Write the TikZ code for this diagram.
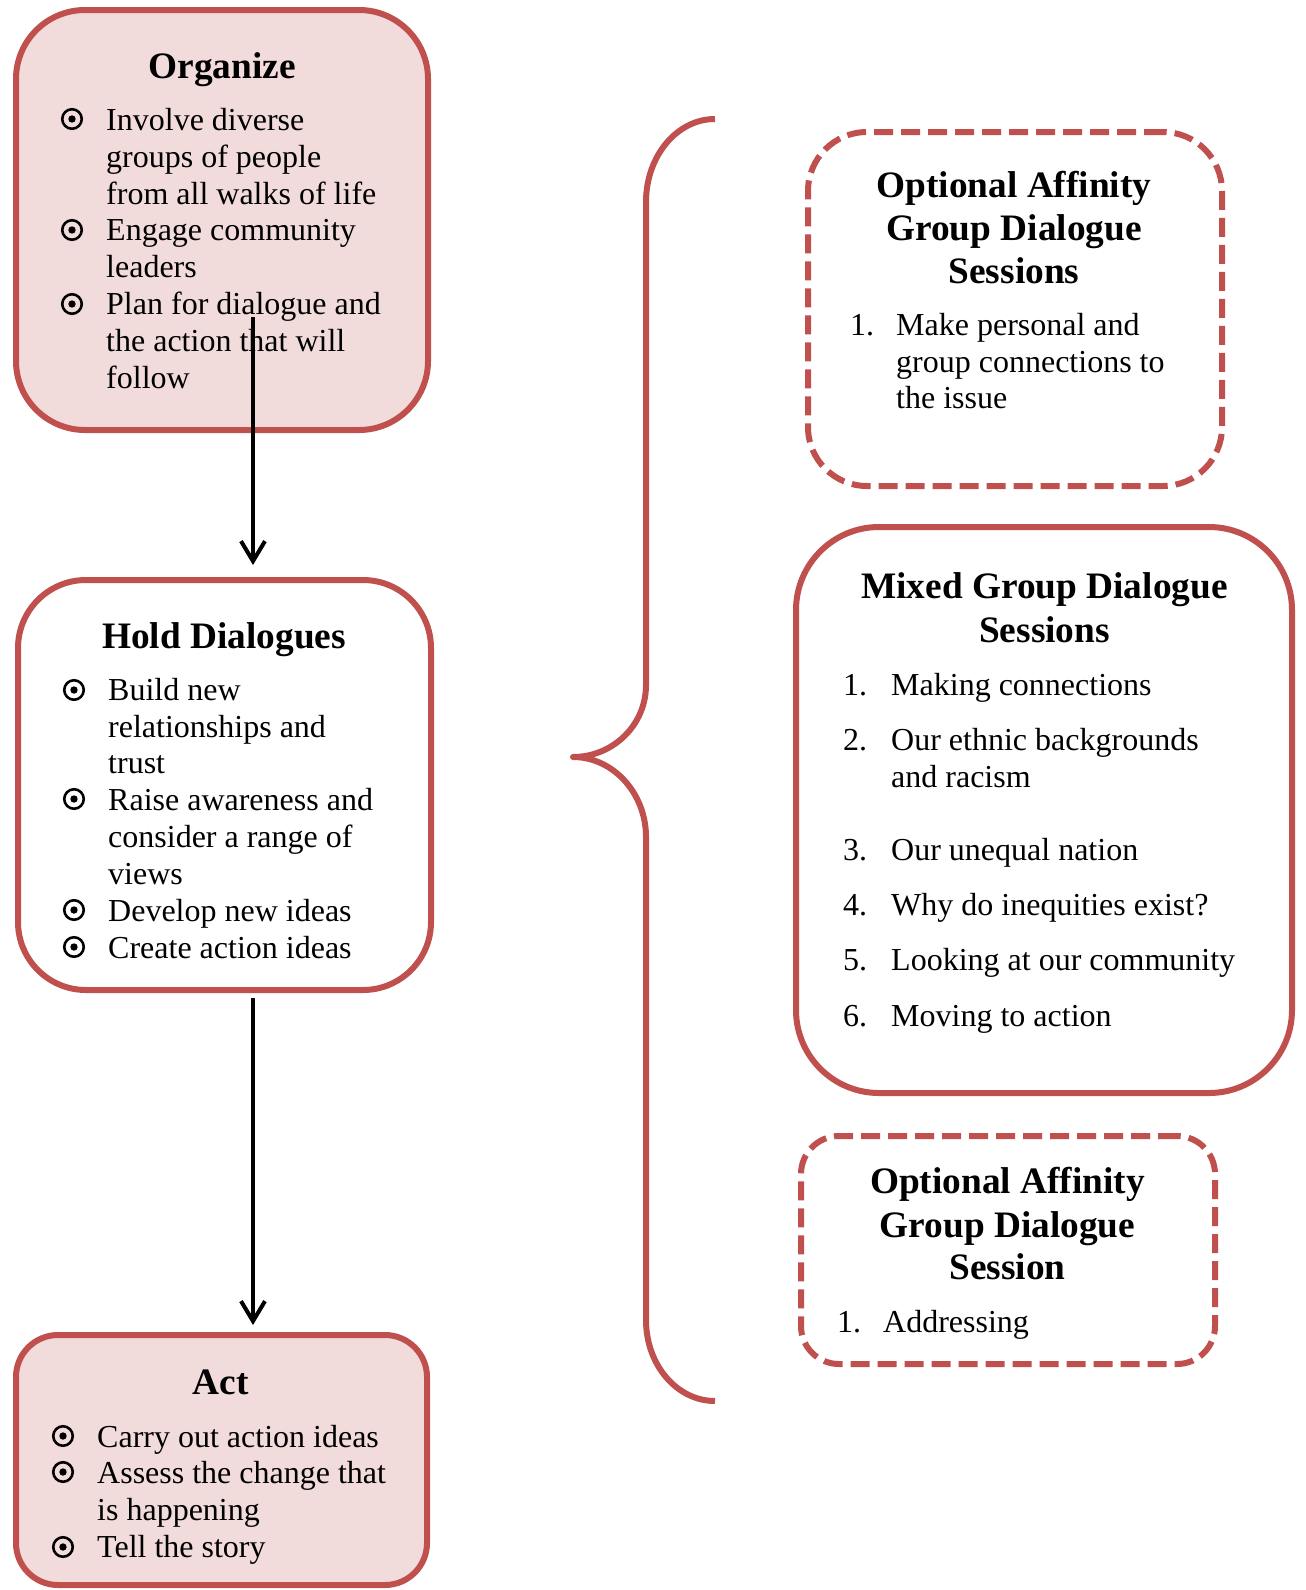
\documentclass[tikz,border=0pt]{standalone}
\usepackage{fontspec}
\setmainfont{Liberation Serif}
\usetikzlibrary{arrows.meta}
\definecolor{accent}{HTML}{C0504D}
\definecolor{pinkfill}{HTML}{F2DCDB}
\begin{document}
\begin{tikzpicture}[x=1pt,y=-1pt,
  box/.style={draw=accent, line width=6pt, rounded corners=#1, inner sep=0pt, shape=rectangle},
  dashbox/.style={box=#1, dash pattern=on 19pt off 8pt},
  txt/.style={font=\fontsize{32}{37}\selectfont, inner sep=0pt, anchor=base west},
  ttl/.style={font=\fontsize{37.33}{43}\selectfont\bfseries, inner sep=0pt, anchor=base},
  bul/.style={circle, draw=black, line width=2.6pt, minimum size=19.5pt, inner sep=0pt,
    path picture={\fill[black] (path picture bounding box.center) circle (3.7pt);}},
  arr/.style={line width=4pt, -{Straight Barb[length=20pt,width=24pt]}},
  brace/.style={draw=accent, line width=6pt, line join=round}
]
\useasboundingbox (0,0) rectangle (1306,1590);

% boxes
\node[box=69pt, fill=pinkfill, minimum width=412pt, minimum height=420pt] (org) at (222,220) {};
\node[box=68pt, fill=white, minimum width=413pt, minimum height=410pt] (hold) at (224.5,785) {};
\node[box=42pt, fill=pinkfill, minimum width=411pt, minimum height=250pt] (act) at (221.5,1460) {};
\node[dashbox=59pt, minimum width=414pt, minimum height=354pt] (opt1) at (1015,309) {};
\node[box=83pt, minimum width=496pt, minimum height=566pt] (mixed) at (1044,810) {};
\node[dashbox=38pt, minimum width=414pt, minimum height=228pt] (opt2) at (1008,1250) {};

% brace
\draw[brace] (715,119) .. controls (677,119) and (646,156) .. (646,202)
  -- (646,685) .. controls (646,725) and (613,757) .. (573,757)
  .. controls (613,757) and (646,793) .. (646,837)
  -- (646,1320) .. controls (646,1365) and (677,1401) .. (715,1401);

% Organize
\node[ttl] (orgT) at (222,78) {Organize};
\node[bul] (orgB1) at (72,119) {};
\node[bul] (orgB2) at (72,230) {};
\node[bul] (orgB3) at (72,304) {};
\foreach \t/\y [count=\i] in {Involve diverse/130, groups of people/167, from all walks of life/204,
  Engage community/240, leaders/277, Plan for dialogue and/314, the action that will/351, follow/388}
  \node[txt] (org\i) at (106,\y) {\t};

% Hold Dialogues
\node[ttl] (holdT) at (224,648) {Hold Dialogues};
\node[bul] (holdB1) at (74,690) {};
\node[bul] (holdB2) at (74,799) {};
\node[bul] (holdB3) at (74,910) {};
\node[bul] (holdB4) at (74,947) {};
\foreach \t/\y [count=\i] in {Build new/700, relationships and/737, trust/773,
  Raise awareness and/810, consider a range of/847, views/884, Develop new ideas/921, Create action ideas/958}
  \node[txt] (hold\i) at (108,\y) {\t};

% Act
\node[ttl] (actT) at (220.5,1394) {Act};
\node[bul] (actB1) at (63,1436) {};
\node[bul] (actB2) at (63,1472) {};
\node[bul] (actB3) at (63,1547) {};
\foreach \t/\y [count=\i] in {Carry out action ideas/1447, Assess the change that/1483,
  is happening/1520, Tell the story/1557}
  \node[txt] (act\i) at (97,\y) {\t};

% Optional 1
\foreach \t/\y [count=\i] in {Optional Affinity/197, Group Dialogue/240, Sessions/283}
  \node[ttl] (opt1T\i) at (1014,\y) {\t};
\node[txt] (opt1N1) at (850,335) {1.};
\foreach \t/\y [count=\i] in {Make personal and/335, group connections to/372, the issue/408}
  \node[txt] (opt1L\i) at (896,\y) {\t};

% Mixed
\node[ttl] (mixT1) at (1044.5,598) {Mixed Group Dialogue};
\node[ttl] (mixT2) at (1044.5,642) {Sessions};
\foreach \n/\y in {1/695, 2/750, 3/860, 4/915, 5/970, 6/1026}
  \node[txt] (mixN\n) at (843,\y) {\n.};
\foreach \t/\y [count=\i] in {Making connections/695, Our ethnic backgrounds/750, and racism/787,
  Our unequal nation/860, Why do inequities exist?/915, Looking at our community/970, Moving to action/1026}
  \node[txt] (mixL\i) at (891,\y) {\t};

% Optional 2
\foreach \t/\y [count=\i] in {Optional Affinity/1193, Group Dialogue/1237, Session/1279}
  \node[ttl] (opt2T\i) at (1007.5,\y) {\t};
\node[txt] (opt2N1) at (837,1332) {1.};
\node[txt] (opt2L1) at (883,1332) {Addressing};

% arrows
\coordinate (a1s) at (253,317);
\coordinate (ax) at (253,0);
\draw[arr, shorten >=12pt] (a1s) -- (a1s |- hold.north);
\draw[arr, shorten <=5pt, shorten >=7pt] (hold.south -| ax) -- (act.north -| ax);
\end{tikzpicture}
\end{document}
